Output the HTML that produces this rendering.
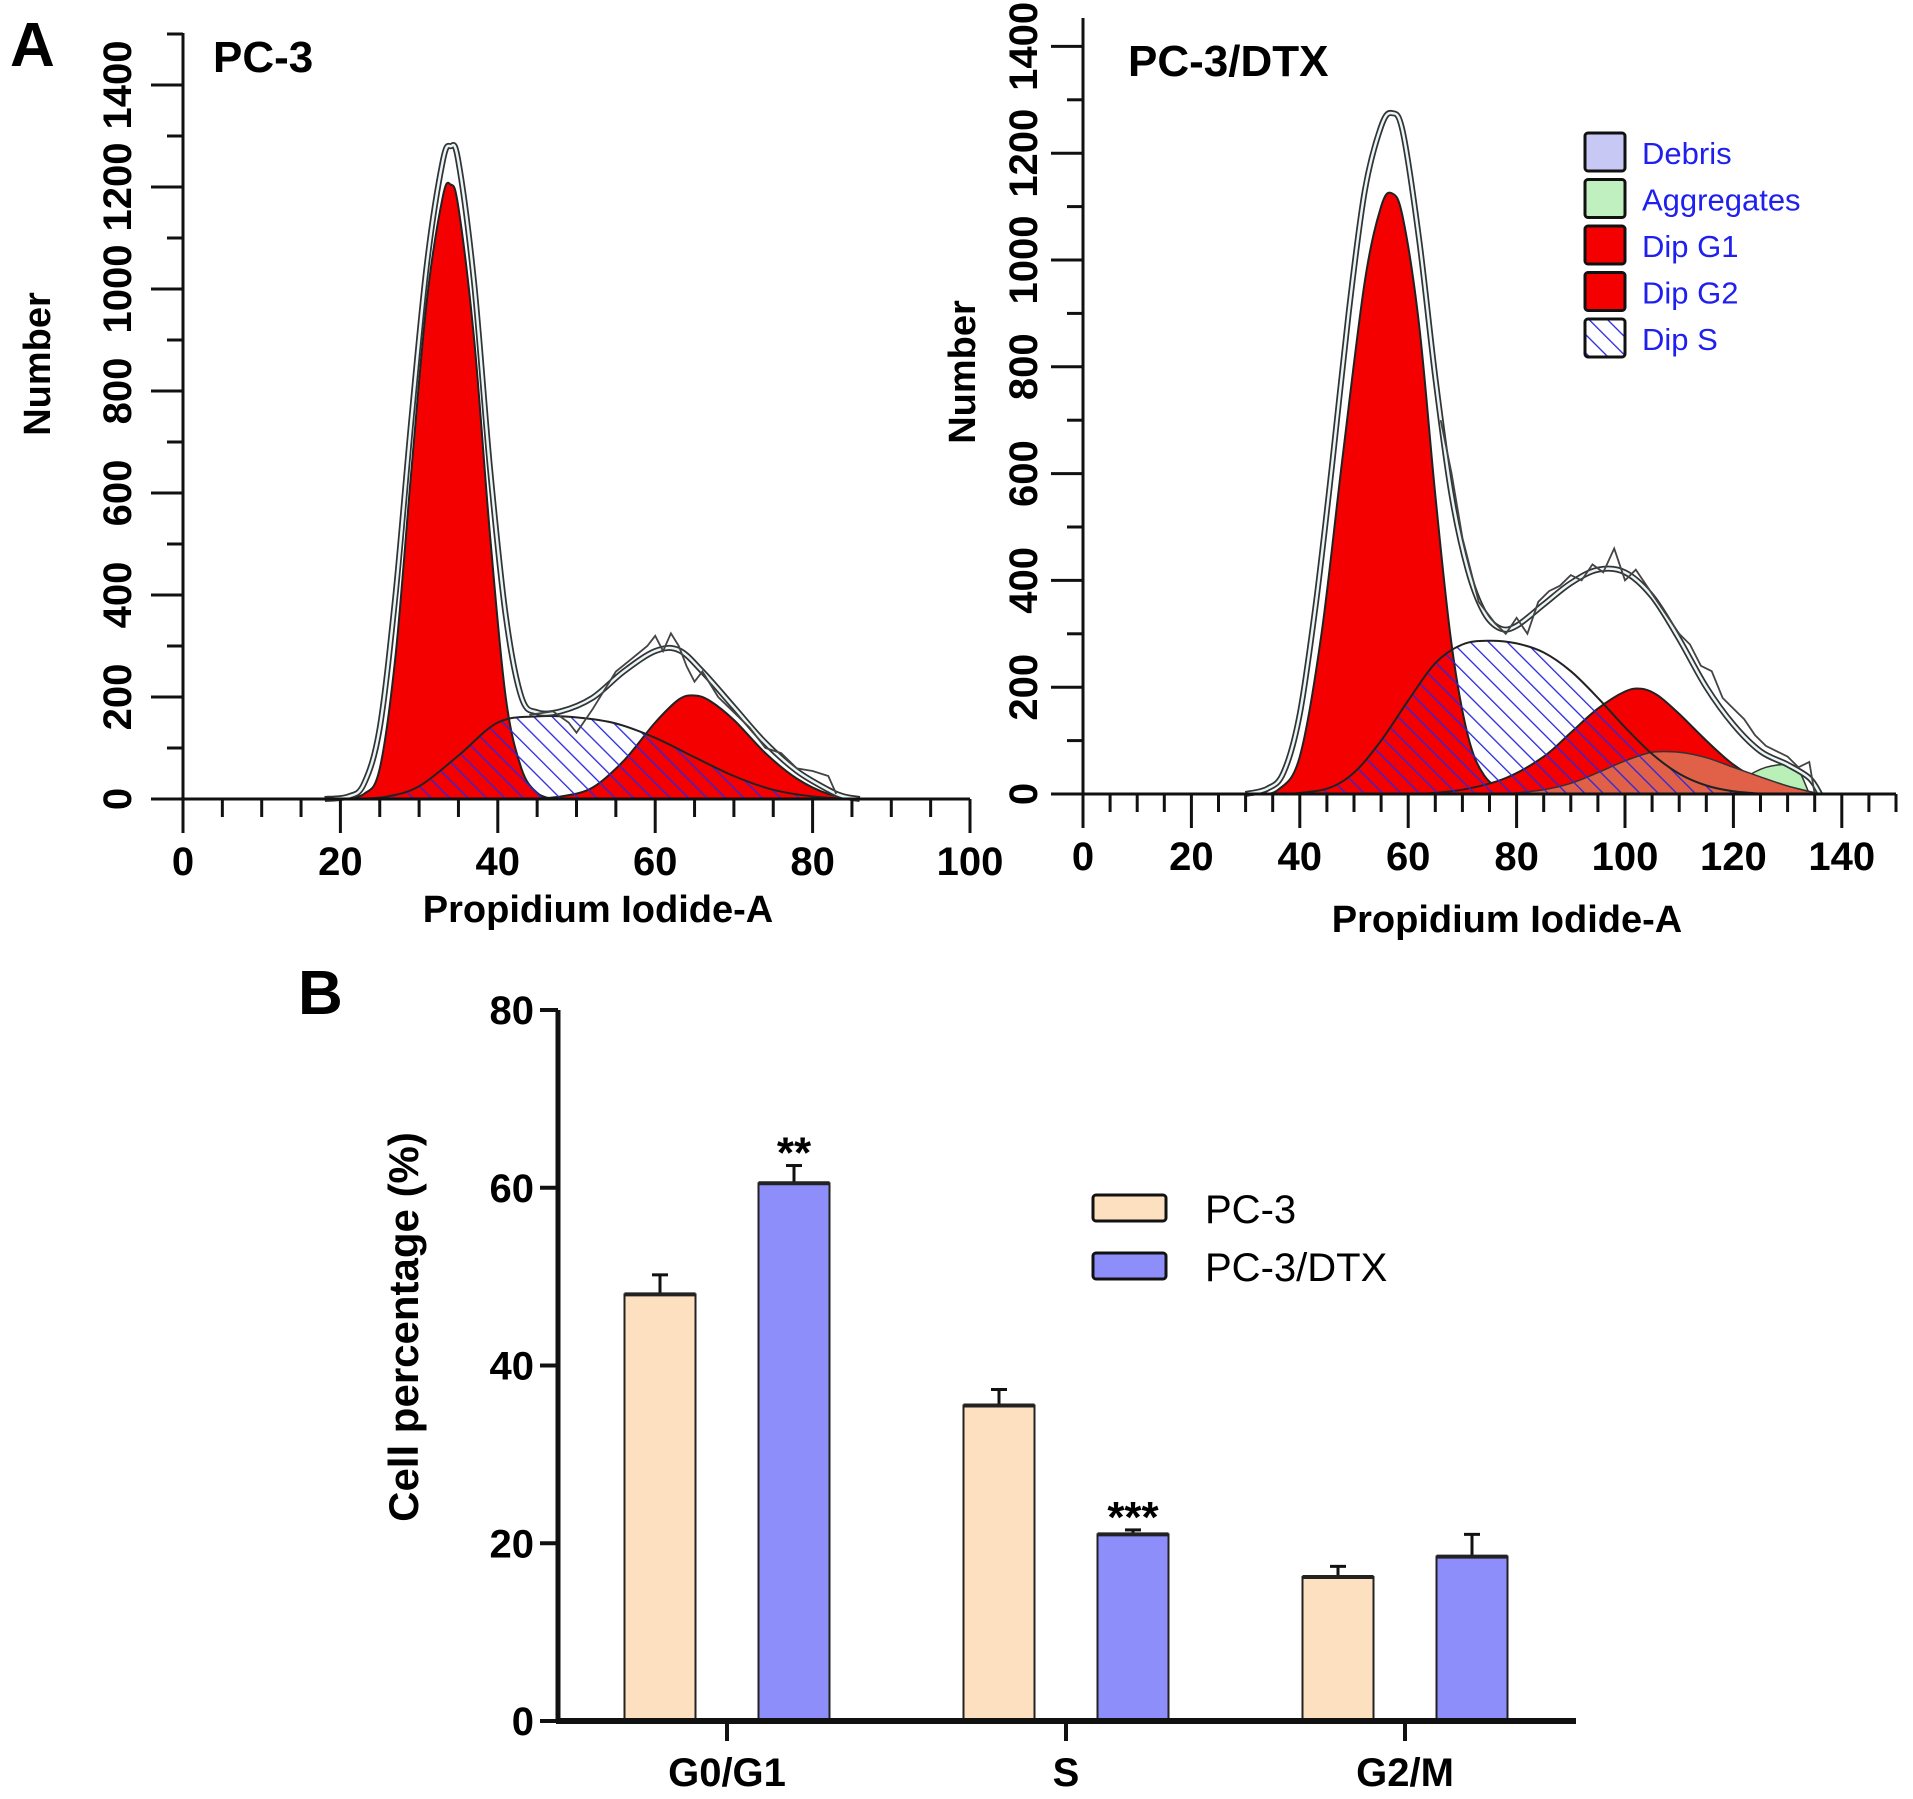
<!DOCTYPE html>
<html><head><meta charset="utf-8"><style>
html,body{margin:0;padding:0;background:#fff;}
svg{display:block;font-family:"Liberation Sans",Arial,sans-serif;}
</style></head><body>
<svg id="fig" width="1913" height="1799" viewBox="0 0 1913 1799" xmlns="http://www.w3.org/2000/svg">
<defs>
<pattern id="hatch" patternUnits="userSpaceOnUse" width="13" height="13" patternTransform="rotate(-45)">
<line x1="0" y1="0" x2="0" y2="13" stroke="#2828e0" stroke-width="2.6"/>
</pattern>
</defs>
<g id="panelA1"></g>
<g id="panelA2"></g>
<g id="panelB"></g>
<text x="10" y="66" font-size="62" font-weight="bold">A</text>
<text x="298" y="1014" font-size="62" font-weight="bold">B</text>
</svg>
<script>
// ---------- Panel A data: PC-3 ----------
const pcX_G1 = [20,23,25,27,29,31,33,34,35,37,39,41,43,45,47];
const pcY_G1 = [0,10,60,280,640,980,1180,1205,1160,900,520,200,60,12,0];
const pcX_S  = [22,26,30,35,40,45,50,55,60,65,70,75,80,85];
const pcY_S  = [0,5,25,85,150,162,160,148,120,82,45,18,5,0];
const pcX_G2 = [44,48,52,56,60,63,65,67,70,74,78,82,86];
const pcY_G2 = [0,5,22,75,150,195,203,192,155,90,40,10,0];
const pcX_T  = [18,21,23,25,27,29,31,33,34,35,37,39,41,43,45,48,52,56,60,63,66,70,74,78,82,84,86];
const pcY_T  = [0,5,30,140,400,740,1050,1250,1280,1250,1010,650,360,200,170,172,198,250,290,292,250,180,110,55,18,5,0];
const pcX_R  = [44,47,49,50,52,55,57,59,60,61,62,63,64,65,66,68,70,72,74,76,78,80,82,83];
const pcY_R  = [165,172,150,130,175,250,275,300,320,290,325,300,260,230,250,200,170,140,100,90,60,55,45,10];

// ---------- Panel A data: PC-3/DTX ----------
const dtX_G1 = [32,36,40,44,48,52,55,57,59,62,65,68,71,74,78,82];
const dtY_G1 = [0,8,70,300,640,960,1100,1125,1080,880,560,280,110,35,5,0];
const dtX_S  = [38,45,50,55,60,65,70,75,80,85,90,95,100,105,110,115,120,126];
const dtY_S  = [0,10,40,100,175,245,280,287,282,265,230,180,125,75,38,16,5,0];
const dtX_G2 = [62,70,78,85,90,95,100,103,106,110,115,120,125,130,136];
const dtY_G2 = [0,8,30,70,115,160,192,197,185,150,100,55,25,8,0];
const dtX_Ag = [78,85,90,95,100,105,110,115,120,125,130,136];
const dtY_Ag = [0,8,20,40,62,78,78,68,50,32,15,0];
const dtX_Gr = [118,122,126,130,132,134];
const dtY_Gr = [0,30,50,55,45,0];
const dtX_T  = [30,34,37,40,43,46,49,52,55,57,59,62,65,68,71,74,77,80,85,90,95,100,105,110,115,120,125,130,134,136];
const dtY_T  = [0,10,40,150,360,620,900,1130,1250,1275,1240,1040,780,560,420,340,310,315,355,395,420,415,370,290,200,130,80,55,30,0];
const dtX_R  = [66,68,70,73,76,78,80,82,84,86,88,90,92,94,96,98,99,100,102,104,106,108,110,112,114,116,118,120,122,124,126,128,130,132,134,135];
const dtY_R  = [700,600,480,360,320,300,330,300,360,380,390,410,400,430,415,460,430,400,420,390,360,330,300,280,240,230,180,160,140,110,90,80,70,50,60,0];
const hxTicks = [0,20,40,60,80,100];
const dxTicks = [0,20,40,60,80,100,120,140];
const hyTicks = [0,200,400,600,800,1000,1200,1400];

// ---------- Panel B data ----------
const categories = ["G0/G1","S","G2/M"];
const pc3Values = [48,35.5,16.2];
const pc3Err = [2.2,1.8,1.2];
const dtxValues = [60.5,21,18.5];
const dtxErr = [2.0,0.5,2.5];
const sigMarks = ["**","***",""];
const barYTicks = [0,20,40,60,80];

const NS="http://www.w3.org/2000/svg";
function mk(parent,tag,attrs){const e=document.createElementNS(NS,tag);for(const k in attrs)e.setAttribute(k,attrs[k]);parent.appendChild(e);return e;}
function smoothPath(pts){
  let d="M"+pts[0][0].toFixed(1)+","+pts[0][1].toFixed(1);
  for(let i=0;i<pts.length-1;i++){
    const p0=pts[Math.max(0,i-1)],p1=pts[i],p2=pts[i+1],p3=pts[Math.min(pts.length-1,i+2)];
    const c1=[p1[0]+(p2[0]-p0[0])/6,p1[1]+(p2[1]-p0[1])/6];
    const c2=[p2[0]-(p3[0]-p1[0])/6,p2[1]-(p3[1]-p1[1])/6];
    d+=" C"+c1[0].toFixed(1)+","+c1[1].toFixed(1)+" "+c2[0].toFixed(1)+","+c2[1].toFixed(1)+" "+p2[0].toFixed(1)+","+p2[1].toFixed(1);
  }
  return d;
}
function linePath(pts){return "M"+pts.map(p=>p[0].toFixed(1)+","+p[1].toFixed(1)).join(" L");}

function histogram(g,cfg){
  const xs=v=>cfg.x0+v*cfg.kx, ys=v=>cfg.y0-v*cfg.ky;
  const pts=(X,Y)=>X.map((x,i)=>[xs(x),ys(Y[i])]);
  const area=(X,Y)=>{const p=pts(X,Y);return smoothPath(p)+" Z";};
  let e=mk(g,"path",{d:area(cfg.sx,cfg.sy),fill:"#fff",stroke:"none"});
  
  
  if(cfg.gx){e=mk(g,"path",{d:area(cfg.gx,cfg.gy),fill:"#b8f0b8",stroke:"#333","stroke-width":1.5});
    
    }
  e=mk(g,"path",{d:area(cfg.g1x,cfg.g1y),fill:"#f50000",stroke:"#222","stroke-width":2});
  
  
  e=mk(g,"path",{d:area(cfg.g2x,cfg.g2y),fill:"#f50000",stroke:"#222","stroke-width":2});
  
  
  if(cfg.ax){e=mk(g,"path",{d:area(cfg.ax,cfg.ay),fill:"#e06048",stroke:"#333","stroke-width":1.5});
    
    }
  e=mk(g,"path",{d:area(cfg.sx,cfg.sy),fill:"url(#hatch)",stroke:"#222","stroke-width":2});
  
  
  const tp=smoothPath(pts(cfg.tx,cfg.ty));
  e=mk(g,"path",{d:tp,fill:"none",stroke:"#333","stroke-width":6});
  
  
  e=mk(g,"path",{d:tp,fill:"none",stroke:"#e8f6f8","stroke-width":2.5});
  
  
  e=mk(g,"path",{d:linePath(pts(cfg.rx,cfg.ry)),fill:"none",stroke:"#444","stroke-width":1.8});
  
  
  const xmax=cfg.xmax;
  e=mk(g,"line",{x1:cfg.x0,y1:cfg.y0,x2:xs(xmax),y2:cfg.y0,stroke:"#111","stroke-width":3});
  
  
  e=mk(g,"line",{x1:cfg.x0,y1:cfg.y0,x2:cfg.x0,y2:cfg.ytop,stroke:"#111","stroke-width":3});
  
  
  for(let v=0;v<=xmax;v+=5){
    const big=v%20===0;
    e=mk(g,"line",{x1:xs(v),y1:cfg.y0,x2:xs(v),y2:cfg.y0+(big?34:18),stroke:"#111","stroke-width":3});
    
    
  }
  cfg.xt.forEach(v=>{
    const t=mk(g,"text",{x:xs(v),y:cfg.y0+76,"font-size":40,"font-weight":"bold","text-anchor":"middle"});
    t.textContent=v;
    
    
  });
  for(let v=0;ys(v)>=cfg.ytop-1;v+=100){
    const big=v%200===0;
    e=mk(g,"line",{x1:cfg.x0,y1:ys(v),x2:cfg.x0-(big?32:16),y2:ys(v),stroke:"#111","stroke-width":3});
    
    
  }
  hyTicks.forEach(v=>{
    const t=mk(g,"text",{x:0,y:0,"font-size":40,"font-weight":"bold","text-anchor":"middle",transform:`translate(${cfg.x0-cfg.ylo},${ys(v)}) rotate(-90)`});
    t.textContent=v;
    
    
  });
  let t=mk(g,"text",{"font-size":38,"font-weight":"bold","text-anchor":"middle",transform:`translate(${cfg.ytx},${cfg.yty}) rotate(-90)`});
  t.textContent="Number";
  
  
  t=mk(g,"text",{x:cfg.xtx,y:cfg.xty,"font-size":38,"font-weight":"bold","text-anchor":"middle"});
  t.textContent="Propidium Iodide-A";
  
  
  t=mk(g,"text",{x:cfg.titx,y:cfg.tity,"font-size":44,"font-weight":"bold"});
  t.textContent=cfg.title;
  
  
}

histogram(document.getElementById("panelA1"),{x0:183,y0:799,kx:7.87,ky:0.51,ytop:33,xmax:100,ylo:52,
  g1x:pcX_G1,g1y:pcY_G1,sx:pcX_S,sy:pcY_S,g2x:pcX_G2,g2y:pcY_G2,tx:pcX_T,ty:pcY_T,rx:pcX_R,ry:pcY_R,
  xt:hxTicks,ytx:50,yty:364,xtx:598,xty:922,titx:213,tity:72,title:"PC-3"});
histogram(document.getElementById("panelA2"),{x0:1083,y0:794,kx:5.42,ky:0.534,ytop:18,xmax:150,ylo:46,
  g1x:dtX_G1,g1y:dtY_G1,sx:dtX_S,sy:dtY_S,g2x:dtX_G2,g2y:dtY_G2,tx:dtX_T,ty:dtY_T,rx:dtX_R,ry:dtY_R,
  ax:dtX_Ag,ay:dtY_Ag,gx:dtX_Gr,gy:dtY_Gr,
  xt:dxTicks,ytx:975,yty:372,xtx:1507,xty:932,titx:1128,tity:76,title:"PC-3/DTX"});

(function(){
  const g=document.getElementById("panelA2");
  const labels=["Debris","Aggregates","Dip G1","Dip G2","Dip S"];
  const fills=["#c8c8f4","#c0f0c0","#f50000","#f50000","url(#hatch)"];
  labels.forEach((l,i)=>{
    const y=133+i*46.5;
    if(i===4){const b=mk(g,"rect",{x:1585,y:y,width:40,height:38,fill:"#fff"});
      
      }
    const r=mk(g,"rect",{x:1585,y:y,width:40,height:38,fill:fills[i],stroke:"#111","stroke-width":3,rx:3});
    
    
    const t=mk(g,"text",{x:1642,y:y+31,"font-size":31,fill:"#2020ee"});
    t.textContent=l;
    
    
  });
})();

(function(){
  const g=document.getElementById("panelB");
  const x0=558,y0=1721,ky=(1721-1010)/80;
  const ys=v=>y0-v*ky;
  const centers=[727,1066,1405];
  const bw=71,off=67;
  const fonts='"Liberation Sans Narrow","Liberation Sans",Arial,sans-serif';
  function bar(cx,v,err,fill,name){
    let e=mk(g,"line",{x1:cx,y1:ys(v),x2:cx,y2:ys(v+err),stroke:"#111","stroke-width":3});
    
    
    e=mk(g,"line",{x1:cx-8,y1:ys(v+err),x2:cx+8,y2:ys(v+err),stroke:"#111","stroke-width":3});
    
    
    e=mk(g,"rect",{x:cx-bw/2,y:ys(v),width:bw,height:y0-ys(v),fill:fill,stroke:"#222","stroke-width":2});
    
    
    e=mk(g,"line",{x1:cx-bw/2,y1:ys(v),x2:cx+bw/2,y2:ys(v),stroke:"#222","stroke-width":4});
    
    
  }
  categories.forEach((c,i)=>{
    bar(centers[i]-off,pc3Values[i],pc3Err[i],"#fde0c0","bar-pc3-"+i);
    bar(centers[i]+off,dtxValues[i],dtxErr[i],"#8e8efa","bar-dtx-"+i);
    if(sigMarks[i]){
      const t=mk(g,"text",{x:centers[i]+off,y:ys(dtxValues[i]+dtxErr[i])+2,"font-size":44,"font-weight":"bold","text-anchor":"middle"});
      t.textContent=sigMarks[i];
      
      
    }
    let e=mk(g,"line",{x1:centers[i],y1:y0,x2:centers[i],y2:y0+20,stroke:"#111","stroke-width":4});
    
    
    const t=mk(g,"text",{x:centers[i],y:1786,"font-size":40,"font-weight":"bold","text-anchor":"middle","font-family":fonts});
    t.textContent=c;
    
    
  });
  let e=mk(g,"line",{x1:x0,y1:ys(80),x2:x0,y2:y0,stroke:"#111","stroke-width":5});
  
  
  e=mk(g,"line",{x1:x0-2,y1:y0,x2:1576,y2:y0,stroke:"#111","stroke-width":6});
  
  
  barYTicks.forEach(v=>{
    let l=mk(g,"line",{x1:x0-18,y1:ys(v),x2:x0,y2:ys(v),stroke:"#111","stroke-width":4});
    
    
    const t=mk(g,"text",{x:534,y:ys(v)+14,"font-size":40,"font-weight":"bold","text-anchor":"end"});
    t.textContent=v;
    
    
  });
  let t=mk(g,"text",{"font-size":42,"font-weight":"bold","text-anchor":"middle","font-family":fonts,transform:"translate(418,1327) rotate(-90)"});
  t.textContent="Cell percentage (%)";
  
  
  const leg=[["PC-3","#fde0c0",1195],["PC-3/DTX","#8e8efa",1253]];
  leg.forEach(([l,f,y])=>{
    const r=mk(g,"rect",{x:1093,y:y,width:73,height:26,fill:f,stroke:"#111","stroke-width":3,rx:3});
    
    
    const tt=mk(g,"text",{x:1205,y:y+28,"font-size":40,"font-family":fonts});
    tt.textContent=l;
    
    
  });
})();
</script>
</body></html>
